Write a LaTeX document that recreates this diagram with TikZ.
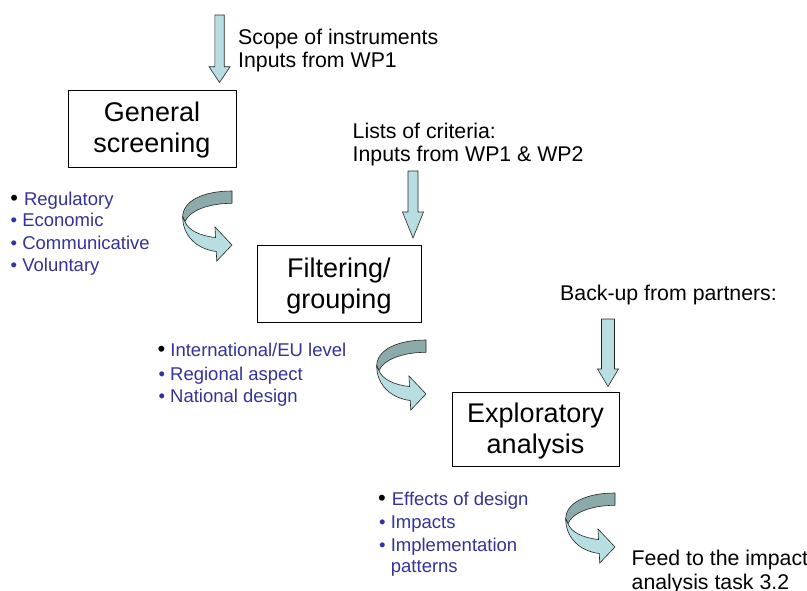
\documentclass[tikz,border=0pt]{standalone}
\usepackage{fontspec}
\setmainfont{Liberation Sans}
\definecolor{listblue}{RGB}{51,51,153}
\definecolor{arrowlight}{RGB}{184,222,226}
\definecolor{arrowdark}{RGB}{141,170,170}
\newcommand\blockdown[6]{% name, cx, top, headstart, tip, shaft half width
  \filldraw[blk] ({#2-#6},#3) -- ({#2+#6},#3) -- ({#2+#6},#4) -- ({#2+10.5},#4)
    -- (#2,#5) coordinate (#1) -- ({#2-10.5},#4) -- ({#2-#6},#4) -- cycle;}
\tikzset{
  curl/.pic={
    \filldraw[fill=arrowdark, draw=black!85, line width=0.6pt, line join=round]
      (54,0) .. controls (25,0) and (4.7,10) .. (4.7,26) -- (7,30.7)
      .. controls (11,20) and (30,12.3) .. (54,12.3) -- cycle;
    \filldraw[fill=arrowlight, draw=black!85, line width=0.6pt, line join=miter]
      (4.7,26) -- (7,30.7) .. controls (10,39) and (22,45) .. (37.5,46.5)
      -- (37,36) -- (54,54) -- (38.7,70) -- (38.3,60.5)
      .. controls (18,58) and (4.7,44) .. (4.7,26) -- cycle;
  }
}
\begin{document}
\begin{tikzpicture}[x=1pt,y=-1pt,
  box/.style={draw=black, line width=0.9pt, fill=white, align=center,
    font=\fontsize{27}{31}\selectfont, inner sep=0pt},
  lbl/.style={anchor=base west, inner sep=0pt, font=\fontsize{21.3}{23}\selectfont},
  item/.style={anchor=base west, inner sep=0pt, text=listblue,
    font=\fontsize{18.5}{22}\selectfont},
  blk/.style={fill=arrowlight, draw=black!85, line width=0.6pt, line join=miter},
  ]
\useasboundingbox (0,0) rectangle (807,590);
\fill[white] (0,0) rectangle (807,590);

% boxes
\node[box, minimum width=168, minimum height=77] (gs) at (152,128.7)
  {\rule{0pt}{23pt}General\\screening\rule[-6pt]{0pt}{6pt}};
\node[box, minimum width=164, minimum height=76.5] (fg) at (339,284)
  {\rule{0pt}{23pt}Filtering/\\grouping\rule[-6pt]{0pt}{6pt}};
\node[box, minimum width=167, minimum height=74.5] (ea) at (535.5,429.5)
  {\rule{0pt}{23pt}Exploratory\\analysis\rule[-6pt]{0pt}{6pt}};

% straight block arrows
\blockdown{t1}{219.5}{15}{66.7}{82.5}{4.7}
\blockdown{t2}{413}{171}{212}{238}{5}
\blockdown{t3}{608}{319}{369}{386.5}{6.5}

% labels
\node[lbl] (s1) at (238,44) {Scope of instruments};
\node[lbl] (s2) at (238,67) {Inputs from WP1};
\node[lbl] (c1) at (352.5,138.3) {Lists of criteria:};
\node[lbl] (c2) at (352.5,161.7) {Inputs from WP1 \& WP2};
\node[lbl] (bp) at (560,300.7) {Back-up from partners:};
\node[lbl] (fd1) at (631.5,565) {Feed to the impact};
\node[lbl] (fd2) at (631.5,589) {analysis task 3.2};

% lists
\node[item] (l1a) at (10.2,205) {{\color{black}\fontsize{22}{22}\selectfont •}\hspace{6pt}Regulatory};
\node[item] (l1b) at (10.5,226.7) {• Economic};
\node[item] (l1c) at (10.5,249.5) {• Communicative};
\node[item] (l1d) at (10.5,271.7) {• Voluntary};

\node[item] (l2a) at (157.5,356.7) {{\color{black}\fontsize{22}{22}\selectfont •}\hspace{5pt}International/EU level};
\node[item] (l2b) at (158.4,380) {• Regional aspect};
\node[item] (l2c) at (158.4,402.7) {• National design};

\node[item] (l3a) at (378,505) {{\color{black}\fontsize{22}{22}\selectfont •}\hspace{6pt}Effects of design};
\node[item] (l3b) at (379,528) {• Impacts};
\node[item] (l3c) at (379,551.5) {• Implementation};
\node[item] (l3d) at (390.7,572) {patterns};

% curled arrows
\pic at (178,191) {curl};
\pic at (372,340) {curl};
\pic at (561,493) {curl};
\end{tikzpicture}
\end{document}
